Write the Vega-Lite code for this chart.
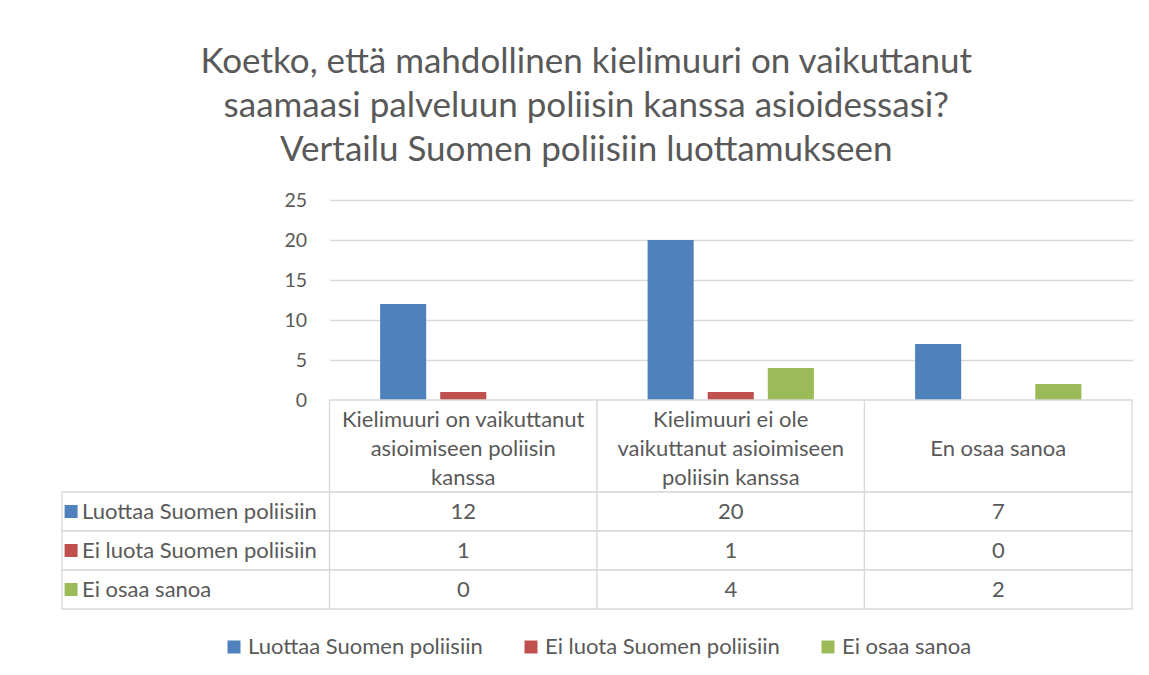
{
  "$schema": "https://vega.github.io/schema/vega-lite/v6.json",
  "padding": {"left": 61, "top": 45, "right": 10, "bottom": 10},
  "background": "white",
  "bounds": "flush",
  "title": {
    "text": ["Koetko, että mahdollinen kielimuuri on vaikuttanut", "saamaasi palveluun poliisin kanssa asioidessasi?", "Vertailu Suomen poliisiin luottamukseen"],
    "fontSize": 35, "font": "Lato", "fontWeight": "normal", "color": "#595959",
    "lineHeight": 44, "anchor": "middle", "dx": -11, "offset": 22
  },
  "config": {
    "font": "Lato",
    "view": {"stroke": null},
    "legend": {"layout": {"bottom": {"anchor": "middle"}}}
  },
  "datasets": {
    "values": [
      {"cat": "Kielimuuri on vaikuttanut asioimiseen poliisin kanssa", "series": "Luottaa Suomen poliisiin", "value": 12},
      {"cat": "Kielimuuri on vaikuttanut asioimiseen poliisin kanssa", "series": "Ei luota Suomen poliisiin", "value": 1},
      {"cat": "Kielimuuri on vaikuttanut asioimiseen poliisin kanssa", "series": "Ei osaa sanoa", "value": 0},
      {"cat": "Kielimuuri ei ole vaikuttanut asioimiseen poliisin kanssa", "series": "Luottaa Suomen poliisiin", "value": 20},
      {"cat": "Kielimuuri ei ole vaikuttanut asioimiseen poliisin kanssa", "series": "Ei luota Suomen poliisiin", "value": 1},
      {"cat": "Kielimuuri ei ole vaikuttanut asioimiseen poliisin kanssa", "series": "Ei osaa sanoa", "value": 4},
      {"cat": "En osaa sanoa", "series": "Luottaa Suomen poliisiin", "value": 7},
      {"cat": "En osaa sanoa", "series": "Ei luota Suomen poliisiin", "value": 0},
      {"cat": "En osaa sanoa", "series": "Ei osaa sanoa", "value": 2}
    ],
    "headers": [
      {"cat": "Kielimuuri on vaikuttanut asioimiseen poliisin kanssa", "line": 1, "text": "Kielimuuri on vaikuttanut"},
      {"cat": "Kielimuuri on vaikuttanut asioimiseen poliisin kanssa", "line": 2, "text": "asioimiseen poliisin"},
      {"cat": "Kielimuuri on vaikuttanut asioimiseen poliisin kanssa", "line": 3, "text": "kanssa"},
      {"cat": "Kielimuuri ei ole vaikuttanut asioimiseen poliisin kanssa", "line": 1, "text": "Kielimuuri ei ole"},
      {"cat": "Kielimuuri ei ole vaikuttanut asioimiseen poliisin kanssa", "line": 2, "text": "vaikuttanut asioimiseen"},
      {"cat": "Kielimuuri ei ole vaikuttanut asioimiseen poliisin kanssa", "line": 3, "text": "poliisin kanssa"},
      {"cat": "En osaa sanoa", "line": 2, "text": "En osaa sanoa"}
    ],
    "series": [
      {"series": "Luottaa Suomen poliisiin"},
      {"series": "Ei luota Suomen poliisiin"},
      {"series": "Ei osaa sanoa"}
    ]
  },
  "spacing": 0,
  "vconcat": [
    {
      "width": 1070, "height": 200,
      "data": {"name": "values"},
      "mark": {"type": "bar"},
      "encoding": {
        "x": {"field": "cat", "type": "nominal", "axis": null,
          "scale": {"type": "band", "domain": ["Sarja", "Kielimuuri on vaikuttanut asioimiseen poliisin kanssa", "Kielimuuri ei ole vaikuttanut asioimiseen poliisin kanssa", "En osaa sanoa"], "paddingInner": 0, "paddingOuter": 0}},
        "xOffset": {"field": "series", "type": "nominal",
          "scale": {"domain": ["Luottaa Suomen poliisiin", "Ei luota Suomen poliisiin", "Ei osaa sanoa"], "paddingInner": 0.233, "paddingOuter": 0.842}},
        "y": {"field": "value", "type": "quantitative",
          "scale": {"domain": [0, 25], "nice": false},
          "axis": {"values": [0, 5, 10, 15, 20, 25], "offset": -267.5, "tickSize": -803, "tickColor": "#d9d9d9", "tickWidth": 1.3,
            "domain": false, "grid": false, "labelFontSize": 19.5, "labelColor": "#595959", "labelPadding": 826, "title": null}},
        "color": {"field": "series", "type": "nominal",
          "scale": {"domain": ["Luottaa Suomen poliisiin", "Ei luota Suomen poliisiin", "Ei osaa sanoa"], "range": ["#4f81bd", "#c0504d", "#9bbb59"]},
          "legend": {"orient": "bottom", "direction": "horizontal", "title": null, "symbolType": "square", "symbolSize": 169, "symbolStrokeWidth": 0,
            "labelFontSize": 22, "labelColor": "#595959", "labelOffset": 3, "labelLimit": 400, "columnPadding": 37, "offset": 26}}
      }
    },
    {
      "width": 1070, "height": 92,
      "data": {"name": "headers"},
      "encoding": {
        "x": {"field": "cat", "type": "nominal", "axis": null,
          "scale": {"type": "band", "domain": ["Sarja", "Kielimuuri on vaikuttanut asioimiseen poliisin kanssa", "Kielimuuri ei ole vaikuttanut asioimiseen poliisin kanssa", "En osaa sanoa"], "paddingInner": 0, "paddingOuter": 0}}
      },
      "layer": [
        {"transform": [{"aggregate": [], "groupby": ["cat"]}],
          "mark": {"type": "rect", "fill": "white", "stroke": "#d9d9d9", "strokeWidth": 1.3}},
        {"mark": {"type": "text", "fontSize": 22, "color": "#595959", "dy": 3},
          "encoding": {
            "y": {"field": "line", "type": "ordinal", "axis": null, "scale": {"type": "point", "domain": [1, 2, 3], "padding": 0.56}},
            "text": {"field": "text"}}}
      ]
    },
    {
      "width": 1070, "height": 117,
      "resolve": {"scale": {"color": "shared"}},
      "layer": [
        {
          "data": {"name": "values"},
          "mark": {"type": "rect", "fill": "white", "stroke": "#d9d9d9", "strokeWidth": 1.3},
          "encoding": {
            "x": {"field": "cat", "type": "nominal", "axis": null,
              "scale": {"type": "band", "domain": ["Sarja", "Kielimuuri on vaikuttanut asioimiseen poliisin kanssa", "Kielimuuri ei ole vaikuttanut asioimiseen poliisin kanssa", "En osaa sanoa"], "paddingInner": 0, "paddingOuter": 0}},
            "y": {"field": "series", "type": "nominal", "axis": null,
              "scale": {"type": "band", "domain": ["Luottaa Suomen poliisiin", "Ei luota Suomen poliisiin", "Ei osaa sanoa"], "paddingInner": 0, "paddingOuter": 0}}
          }
        },
        {
          "data": {"name": "series"},
          "mark": {"type": "rect", "fill": "white", "stroke": "#d9d9d9", "strokeWidth": 1.3},
          "encoding": {
            "x": {"datum": "Sarja", "type": "nominal"},
            "y": {"field": "series", "type": "nominal"}
          }
        },
        {
          "data": {"name": "values"},
          "mark": {"type": "text", "fontSize": 22, "color": "#595959"},
          "encoding": {
            "x": {"field": "cat", "type": "nominal"},
            "y": {"field": "series", "type": "nominal"},
            "text": {"field": "value", "type": "quantitative"}
          }
        },
        {
          "data": {"name": "series"},
          "mark": {"type": "point", "shape": "square", "filled": true, "size": 169, "opacity": 1},
          "encoding": {
            "x": {"datum": "Sarja", "type": "nominal", "bandPosition": 0.034},
            "y": {"field": "series", "type": "nominal"},
            "color": {"field": "series", "type": "nominal", "legend": null}
          }
        },
        {
          "data": {"name": "series"},
          "mark": {"type": "text", "fontSize": 22, "color": "#595959", "align": "left"},
          "encoding": {
            "x": {"datum": "Sarja", "type": "nominal", "bandPosition": 0.075},
            "y": {"field": "series", "type": "nominal"},
            "text": {"field": "series"}
          }
        }
      ]
    }
  ]
}
